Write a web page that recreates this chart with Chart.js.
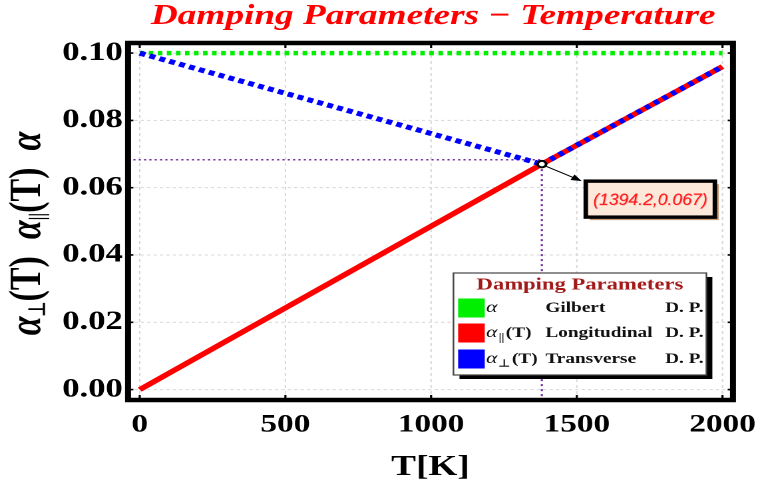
<!DOCTYPE html>
<html><head><meta charset="utf-8">
<script src="https://cdn.jsdelivr.net/npm/chart.js@4"></script>
<style>
html,body{margin:0;padding:0;background:#fff;overflow:hidden}
#wrap{width:571px;height:493px;transform:scaleX(1.331);transform-origin:0 0;}
</style></head><body>
<div id="wrap"><canvas id="c" width="571" height="493"></canvas></div>
<script>
// ---- data ----
const TEMPS = [0, 1380, 2000];
const ALPHA_GILBERT = [0.1, 0.1, 0.1];
const ALPHA_LONG = [0, 0.067, 0.096];
const ALPHA_TRANS = [0.1, 0.067, 0.096];
const X_TICKS = [0, 500, 1000, 1500, 2000];
const Y_TICKS = [0, 0.02, 0.04, 0.06, 0.08, 0.10];
const CROSS_T = 1380, CROSS_A = 0.067;
const GUIDE_A = 0.0683;
const CROSS_LABEL = '(1394.2,0.067)';
const TITLE = 'Damping Parameters \u2212 Temperature';
const X_TITLE = 'T[K]';
const LEGEND_TITLE = 'Damping Parameters';
const LEGEND_SYMS = ['\u03b1', '\u03b1', '\u03b1'];
const LEGEND_SUBS = ['', '||', '\u22a5'];
const LEGEND_ARGS = ['', '(T)', '(T)'];
const LEGEND_NAMES = ['Gilbert', 'Longitudinal', 'Transverse'];
const LEGEND_SUFFIX = 'D. P.';
const COLORS = ['#00ee00', '#ff0000', '#0000ff'];
const X_MIN = -40, X_MAX = 2036, Y_MIN = -0.0031, Y_MAX = 0.103;

const pts = (xs, ys, a, b) => xs.slice(a, b).map((x, i) => ({x, y: ys[a + i]}));
const SERIF = '"Liberation Serif", "Times New Roman", serif';

function lineDs(data, color, width, dash, order) {
  return {data, showLine: true, borderColor: color, backgroundColor: color, borderWidth: width,
    borderDash: dash, borderCapStyle: 'butt', pointRadius: 0, pointHoverRadius: 0, order, tension: 0};
}

const datasets = [
  {data: [{x: CROSS_T, y: CROSS_A}], showLine: false, pointRadius: 3.2,
    pointBorderWidth: 2, pointBorderColor: '#000', pointBackgroundColor: '#fff', order: 0},
  lineDs(pts(TEMPS, ALPHA_TRANS, 1, 3), COLORS[2], 5, [4, 4], 1),
  lineDs(pts(TEMPS, ALPHA_LONG, 1, 3), COLORS[1], 5, [], 2),
  lineDs(pts(TEMPS, ALPHA_TRANS, 0, 2), COLORS[2], 5, [4.5, 3.4], 3),
  lineDs(pts(TEMPS, ALPHA_LONG, 0, 2), COLORS[1], 5, [], 4),
  lineDs(pts(TEMPS, ALPHA_GILBERT, 0, 3), COLORS[0], 4.5, [3.4, 3.4], 5),
  lineDs([{x: X_MIN, y: GUIDE_A}, {x: CROSS_T, y: GUIDE_A}], '#7030a0', 1.5, [1.6, 2.4], 6),
  lineDs([{x: CROSS_T, y: CROSS_A}, {x: CROSS_T, y: Y_MIN}], '#7030a0', 1.6, [2, 3], 7),
];

const deco = {
  id: 'deco',
  beforeDatasetsDraw(chart) {
    const {ctx, chartArea: ca, scales: {x, y}} = chart;
    ctx.save();
    ctx.strokeStyle = '#d6d6d6';
    ctx.lineWidth = 1;
    ctx.setLineDash([3, 3]);
    X_TICKS.forEach(v => { const px = x.getPixelForValue(v); ctx.beginPath(); ctx.moveTo(px, ca.top); ctx.lineTo(px, ca.bottom); ctx.stroke(); });
    ctx.setLineDash([2.4, 2.4]);
    Y_TICKS.forEach(v => { const py = y.getPixelForValue(v); ctx.beginPath(); ctx.moveTo(ca.left, py); ctx.lineTo(ca.right, py); ctx.stroke(); });
    ctx.restore();
  },
  afterDatasetsDraw(chart) {
    const {ctx, chartArea: ca, scales: {x, y}} = chart;
    ctx.save();
    ctx.strokeStyle = '#000';
    ctx.lineWidth = 4.5;
    ctx.strokeRect(ca.left, ca.top, ca.right - ca.left, ca.bottom - ca.top);
    ctx.lineWidth = 1.6;
    X_TICKS.forEach(v => { const px = x.getPixelForValue(v);
      ctx.beginPath(); ctx.moveTo(px, ca.bottom); ctx.lineTo(px, ca.bottom - 5); ctx.moveTo(px, ca.top); ctx.lineTo(px, ca.top + 5); ctx.stroke(); });
    Y_TICKS.forEach(v => { const py = y.getPixelForValue(v);
      ctx.beginPath(); ctx.moveTo(ca.left, py); ctx.lineTo(ca.left + 4, py); ctx.moveTo(ca.right, py); ctx.lineTo(ca.right - 4, py); ctx.stroke(); });

    // annotation box + arrow
    const px = x.getPixelForValue(CROSS_T), py = y.getPixelForValue(CROSS_A);
    const bx = px + 33, by = py + 17, bw = 97, bh = 36;
    ctx.fillStyle = '#c99c78';
    ctx.fillRect(bx + 3, by + 3, bw, bh);
    ctx.fillStyle = '#fde9d9';
    ctx.fillRect(bx, by, bw, bh);
    ctx.strokeStyle = '#000';
    ctx.lineWidth = 3.4;
    ctx.strokeRect(bx, by, bw, bh);
    const ax0 = px + 3, ay0 = py + 2, ax1 = bx - 3, ay1 = by;
    const ang = Math.atan2(ay1 - ay0, ax1 - ax0);
    ctx.lineWidth = 1;
    ctx.beginPath(); ctx.moveTo(ax0, ay0); ctx.lineTo(ax1 - 6 * Math.cos(ang), ay1 - 6 * Math.sin(ang)); ctx.stroke();
    ctx.fillStyle = '#000';
    ctx.beginPath();
    ctx.moveTo(ax1, ay1);
    ctx.lineTo(ax1 - 8 * Math.cos(ang) + 3.2 * Math.sin(ang), ay1 - 8 * Math.sin(ang) - 3.2 * Math.cos(ang));
    ctx.lineTo(ax1 - 8 * Math.cos(ang) - 3.2 * Math.sin(ang), ay1 - 8 * Math.sin(ang) + 3.2 * Math.cos(ang));
    ctx.closePath(); ctx.fill();
    ctx.font = 'italic 17px "Liberation Sans", Arial, sans-serif';
    const tw = ctx.measureText(CROSS_LABEL).width;
    const sx = Math.min(1, 86 / tw);
    ctx.save();
    ctx.translate(bx + bw / 2, by + bh / 2 + 1);
    ctx.scale(sx, 1);
    ctx.textAlign = 'center'; ctx.textBaseline = 'middle';
    ctx.fillStyle = '#f4a0a0';
    ctx.fillText(CROSS_LABEL, 0.8, 0.8);
    ctx.fillStyle = '#ff1a1a';
    ctx.fillText(CROSS_LABEL, 0, 0);
    ctx.restore();

    // legend
    const w = 190, h = 102;
    const L = ca.right - 20 - w, T = ca.bottom - 25 - h;
    ctx.fillStyle = '#000';
    ctx.fillRect(L + 4.5, T + 4, w, h);
    ctx.fillStyle = '#fff';
    ctx.fillRect(L, T, w, h);
    ctx.strokeStyle = '#444'; ctx.lineWidth = 1.2;
    ctx.strokeRect(L, T, w, h);
    ctx.fillStyle = '#a31a1a';
    ctx.font = 'bold 17px ' + SERIF;
    ctx.textAlign = 'center'; ctx.textBaseline = 'middle';
    ctx.fillText(LEGEND_TITLE, L + w / 2, T + 12);
    const rows = [T + 35, T + 60, T + 86];
    rows.forEach((ry, i) => {
      ctx.fillStyle = COLORS[i];
      ctx.fillRect(L + 3.5, ry - 9.5, 20, 19);
      ctx.fillStyle = '#111';
      ctx.textAlign = 'left'; ctx.textBaseline = 'middle';
      let cx = L + 24.5;
      ctx.font = 'italic 16px ' + SERIF;
      ctx.fillText(LEGEND_SYMS[i], cx, ry);
      cx += ctx.measureText(LEGEND_SYMS[i]).width + 1;
      if (LEGEND_SUBS[i]) {
        ctx.font = 'bold 10px ' + SERIF;
        ctx.fillText(LEGEND_SUBS[i], cx, ry + 5);
        cx += ctx.measureText(LEGEND_SUBS[i]).width + 1;
      }
      ctx.font = 'bold 14.5px ' + SERIF;
      if (LEGEND_ARGS[i]) ctx.fillText(LEGEND_ARGS[i], cx, ry);
      ctx.fillText(LEGEND_NAMES[i], L + 69, ry);
      ctx.fillText(LEGEND_SUFFIX, L + 159, ry);
    });
    ctx.restore();
  },
  afterDraw(chart) {
    const {ctx, chartArea: ca} = chart;
    const cxm = (ca.left + ca.right) / 2;
    ctx.save();
    ctx.fillStyle = '#ff0000';
    ctx.font = 'italic bold 28px ' + SERIF;
    ctx.textAlign = 'center'; ctx.textBaseline = 'middle';
    ctx.fillText(TITLE, cxm + 2, 17);
    ctx.fillStyle = '#000';
    ctx.font = 'bold 28px ' + SERIF;
    ctx.fillText(X_TITLE, cxm, 468);
    const segs = [
      ['italic bold 34px ' + SERIF, '\u03b1', 0], ['bold 17px ' + SERIF, '\u22a5', 8], ['bold 34px ' + SERIF, '(T)  ', 0],
      ['italic bold 34px ' + SERIF, '\u03b1', 0], ['bold 17px ' + SERIF, '||', 8], ['bold 34px ' + SERIF, '(T)  ', 0],
      ['italic bold 34px ' + SERIF, '\u03b1', 0]
    ];
    let total = 0;
    segs.forEach(s => { ctx.font = s[0]; total += ctx.measureText(s[1]).width; });
    ctx.translate(21, (ca.top + ca.bottom) / 2 + 12);
    ctx.rotate(-Math.PI / 2);
    ctx.textAlign = 'left';
    let pos = -total / 2;
    segs.forEach(s => { ctx.font = s[0]; ctx.fillText(s[1], pos, s[2]); pos += ctx.measureText(s[1]).width; });
    ctx.restore();
  }
};

new Chart(document.getElementById('c'), {
  type: 'scatter',
  data: {datasets},
  options: {
    responsive: false,
    animation: false,
    devicePixelRatio: 2,
    layout: {padding: {top: 43, right: 20.3, left: 0, bottom: 0}},
    plugins: {legend: {display: false}, tooltip: {enabled: false}, title: {display: false}},
    scales: {
      x: {
        type: 'linear', min: X_MIN, max: X_MAX,
        afterBuildTicks: s => { s.ticks = X_TICKS.map(v => ({value: v})); },
        afterFit: s => { s.height = 93; s.paddingLeft = 0; s.paddingRight = 0; },
        grid: {display: false, drawTicks: false},
        border: {display: false},
        ticks: {color: '#000', padding: 10, font: {family: SERIF, size: 25, weight: 'bold'}, callback: v => String(v), maxRotation: 0, autoSkip: false}
      },
      y: {
        type: 'linear', min: Y_MIN, max: Y_MAX,
        afterBuildTicks: s => { s.ticks = Y_TICKS.map(v => ({value: v})); },
        afterFit: s => { s.width = 96.2; s.paddingTop = 0; s.paddingBottom = 0; },
        grid: {display: false, drawTicks: false},
        border: {display: false},
        ticks: {color: '#000', padding: 4, font: {family: SERIF, size: 26, weight: 'bold'}, callback: v => v.toFixed(2), autoSkip: false}
      }
    }
  },
  plugins: [deco]
});
</script>
</body></html>
